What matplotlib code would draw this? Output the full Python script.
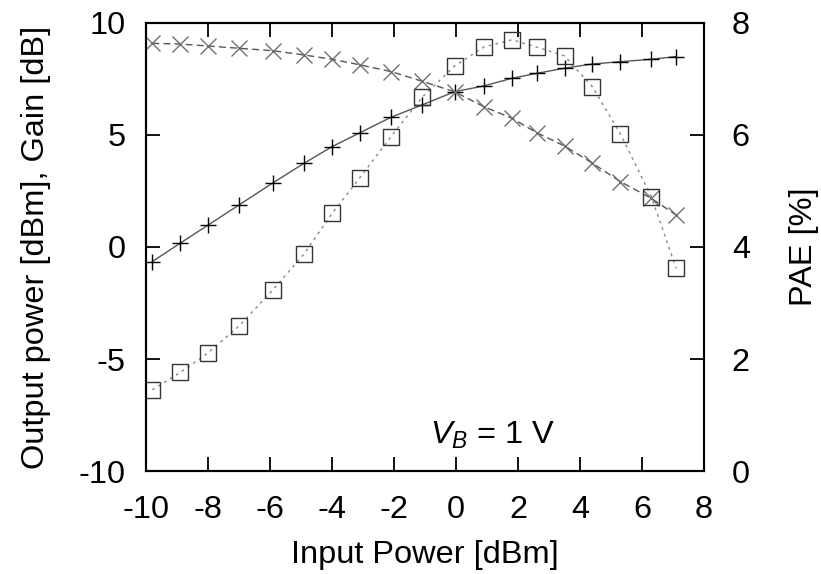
import matplotlib.pyplot as plt

plt.rcParams["font.family"] = ["Liberation Sans", "DejaVu Sans"]
plt.rcParams["mathtext.fontset"] = "custom"
plt.rcParams["mathtext.it"] = "Liberation Sans:italic"
plt.rcParams["mathtext.rm"] = "Liberation Sans"
plt.rcParams["axes.unicode_minus"] = False

input_power = [-9.8, -8.9, -8.0, -7.0, -5.9, -4.9, -4.0, -3.1, -2.1, -1.1,
               -0.05, 0.9, 1.8, 2.6, 3.5, 4.4, 5.3, 6.3, 7.1]
output_power = [-0.65, 0.17, 0.98, 1.88, 2.87, 3.74, 4.48, 5.10, 5.79, 6.34,
                6.93, 7.19, 7.53, 7.75, 7.98, 8.17, 8.27, 8.38, 8.50]
gain = [9.09, 9.06, 8.97, 8.87, 8.76, 8.57, 8.38, 8.13, 7.83, 7.40,
        6.93, 6.26, 5.75, 5.10, 4.51, 3.74, 2.92, 2.17, 1.43]
pae = [1.45, 1.76, 2.11, 2.59, 3.24, 3.88, 4.60, 5.24, 5.97, 6.67,
       7.23, 7.57, 7.70, 7.57, 7.41, 6.86, 6.02, 4.90, 3.62]

fig = plt.figure(figsize=(8.21, 5.74), dpi=100)
ax = fig.add_axes([0.178, 0.1794, 0.6795, 0.7806])
ax2 = ax.twinx()

ax.plot(input_power, output_power, color="#555555", lw=1.0,
        marker="+", ms=12, mec="black", mew=1.0)
ax.plot(input_power, gain, color="#555555", lw=1.0, ls=(0, (5, 3)),
        marker="x", ms=11, mec="#707070", mew=1.0)
ax2.plot(input_power, pae, color="#888888", lw=1.0, ls=(0, (2, 3)),
         marker="s", ms=11.5, mfc="none", mec="#333333", mew=1.0)

ax.set_xlim(-10, 8)
ax.set_ylim(-10, 10)
ax2.set_ylim(0, 8)
ax.set_xticks(range(-10, 9, 2))
ax.set_yticks(range(-10, 11, 5))
ax2.set_yticks(range(0, 9, 2))

fs = 23.4
ax.tick_params(axis="x", direction="in", length=10, width=1.3, top=True,
               labelsize=fs, pad=17)
ax.tick_params(axis="y", direction="in", length=10, width=1.3, labelsize=fs, pad=15)
ax2.tick_params(axis="y", direction="in", length=10, width=1.3, labelsize=fs, pad=20)
for a in (ax, ax2):
    for s in a.spines.values():
        s.set_linewidth(1.5)

ax.set_xlabel("Input Power [dBm]", fontsize=fs, labelpad=11)
ax.set_ylabel("Output power [dBm], Gain [dB]", fontsize=fs, labelpad=20)
ax2.set_ylabel("PAE [%]", fontsize=fs, labelpad=28)

ax.text(-0.85, -8.8, r"$V_B$ = 1 V", fontsize=fs, ha="left", va="baseline")

fig.savefig("out.png", dpi=100)
